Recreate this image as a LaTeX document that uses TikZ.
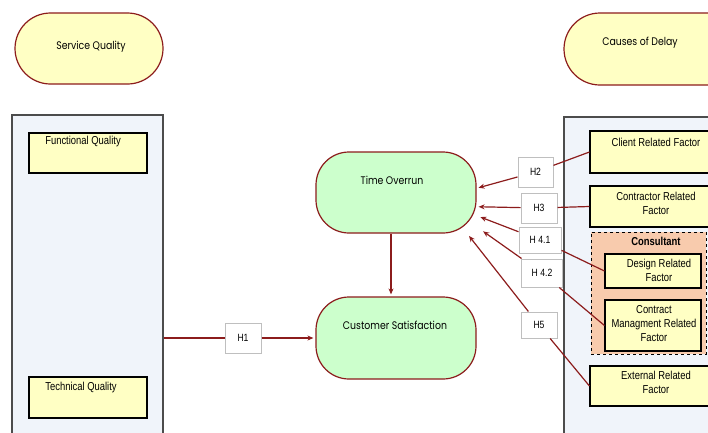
\documentclass[tikz,border=0pt]{standalone}
\usepackage{fontspec}
\setmainfont{Liberation Sans}[FakeStretch=0.82]
\newfontfamily\gothic{Poppins}[FakeStretch=0.85]
\usepackage{tikz}
\usetikzlibrary{arrows.meta, shapes.misc, positioning}
\usepackage{xcolor}
\definecolor{linered}{RGB}{140,28,28}
\definecolor{pillyellow}{RGB}{255,255,196}
\definecolor{pillgreen}{RGB}{204,255,204}
\definecolor{panelbg}{RGB}{240,244,250}
\definecolor{peach}{RGB}{248,203,173}

\begin{document}
\begin{tikzpicture}[x=1pt, y=-1pt, every node/.style={inner sep=0pt, font=\fontsize{11.5}{14}\selectfont},
  pill/.style={rounded rectangle, draw=linered, line width=1.2pt, fill=pillyellow},
  mainbox/.style={rectangle, rounded corners=33pt, draw=linered, line width=1.2pt, fill=pillgreen},
  pilltext/.style={font=\gothic\fontsize{11}{13}\selectfont},
  panel/.style={draw=black!70, line width=1.2pt, fill=panelbg},
  factor/.style={draw=black, line width=1.1pt, fill=pillyellow},
  hyp/.style={draw=black!25, line width=1pt, fill=white, font=\fontsize{10.5}{12}\selectfont},
  link/.style={draw=linered, line width=1.2pt},
  arrow/.style={link, -{Stealth[length=6pt,width=5pt]}, shorten >=2pt}]
  \useasboundingbox (0,0) rectangle (708,432);
  % two groups
  \node[panel, minimum width=151pt, minimum height=330pt] (svc) at (87.5,280) {};
  \node[panel, minimum width=152pt, minimum height=330pt] (cod) at (640,282) {};
  \node[pill, minimum width=148pt, minimum height=71pt] (sq) at (89,48.5) {};
  \node[pilltext] (sqt) at (91,47) {Service Quality};
  \node[pill, minimum width=184pt, minimum height=72pt] (cd) at (656,49) {};
  \node[pilltext] (cdt) at (640,43) {Causes of Delay};
  % service quality side
  \node[factor, minimum width=118pt, minimum height=40pt] (fq) at (88,153) {};
  \node (fqt) at (83,142) {Functional Quality};
  \node[factor, minimum width=118pt, minimum height=41pt] (tq) at (88,397.5) {};
  \node (tqt) at (81,388) {Technical Quality};
  % delay side
  \node[factor, minimum width=132pt, minimum height=42pt] (client) at (656,152) {};
  \node (clientt) at (656,142) {Client Related Factor};
  \node[factor, minimum width=132pt, minimum height=41pt] (contr) at (656,206.5) {};
  \node[align=center] (contrt) at (656,203.5) {Contractor Related\\Factor};
  \node[draw=black, dashed, line width=1pt, fill=peach, minimum width=115pt, minimum height=122pt] (cons) at (648.5,293) {};
  \node[font=\fontsize{11.5}{14}\selectfont\bfseries] (const) at (656,241) {Consultant};
  \node[factor, minimum width=96pt, minimum height=34pt] (design) at (653,271) {};
  \node[align=center] (designt) at (659,270.5) {Design Related\\Factor};
  \node[factor, minimum width=96pt, minimum height=51pt] (cmr) at (653,325.5) {};
  \node[align=center] (cmrt) at (654,324) {Contract\\Managment Related\\Factor};
  \node[factor, minimum width=132pt, minimum height=40pt] (ext) at (656,386) {};
  \node[align=center] (extt) at (656,382.5) {External Related\\Factor};
  % centre
  \node[mainbox, minimum width=160pt, minimum height=81pt] (to) at (396,192.5) {};
  \node[pilltext] (tot) at (392,180) {Time Overrun};
  \node[mainbox, minimum width=160pt, minimum height=82pt] (cs) at (396,338) {};
  \node[pilltext] (cst) at (395,325) {Customer Satisfaction};
  % hypotheses
  \node[hyp, minimum width=36pt, minimum height=30pt] (h1) at (243,338) {H1};
  \node[hyp, minimum width=35pt, minimum height=30pt] (h2) at (535.5,172) {H2};
  \node[hyp, minimum width=36pt, minimum height=30pt] (h3) at (539,208) {H3};
  \node[hyp, minimum width=42pt, minimum height=26pt] (h41) at (540,240) {H 4.1};
  \node[hyp, minimum width=41pt, minimum height=28pt] (h42) at (542,273) {H 4.2};
  \node[hyp, minimum width=36pt, minimum height=26pt] (h5) at (539,325) {H5};
  % connectors
  \draw[link] (svc.east |- h1) -- (h1);
  \draw[arrow] (h1) -- (cs);
  \draw[arrow] ([xshift=-5pt]to.south) -- ([xshift=-5pt]cs.north);
  \draw[link] (client.west) -- (h2);
  \draw[arrow] (h2) -- (to.3);
  \draw[link] (contr.west) -- (h3);
  \draw[arrow] (h3) -- (to.-10);
  \draw[link] (design.west) -- (h41);
  \draw[arrow, shorten >=4pt] (h41) -- (to.-16);
  \draw[link] (cmr.west) -- (h42);
  \draw[arrow, shorten >=8pt] (h42) -- (to.-23);
  \draw[link] (ext.west) -- (h5);
  \draw[arrow, shorten >=3pt] (h5) -- (to.-30);
\end{tikzpicture}
\end{document}
